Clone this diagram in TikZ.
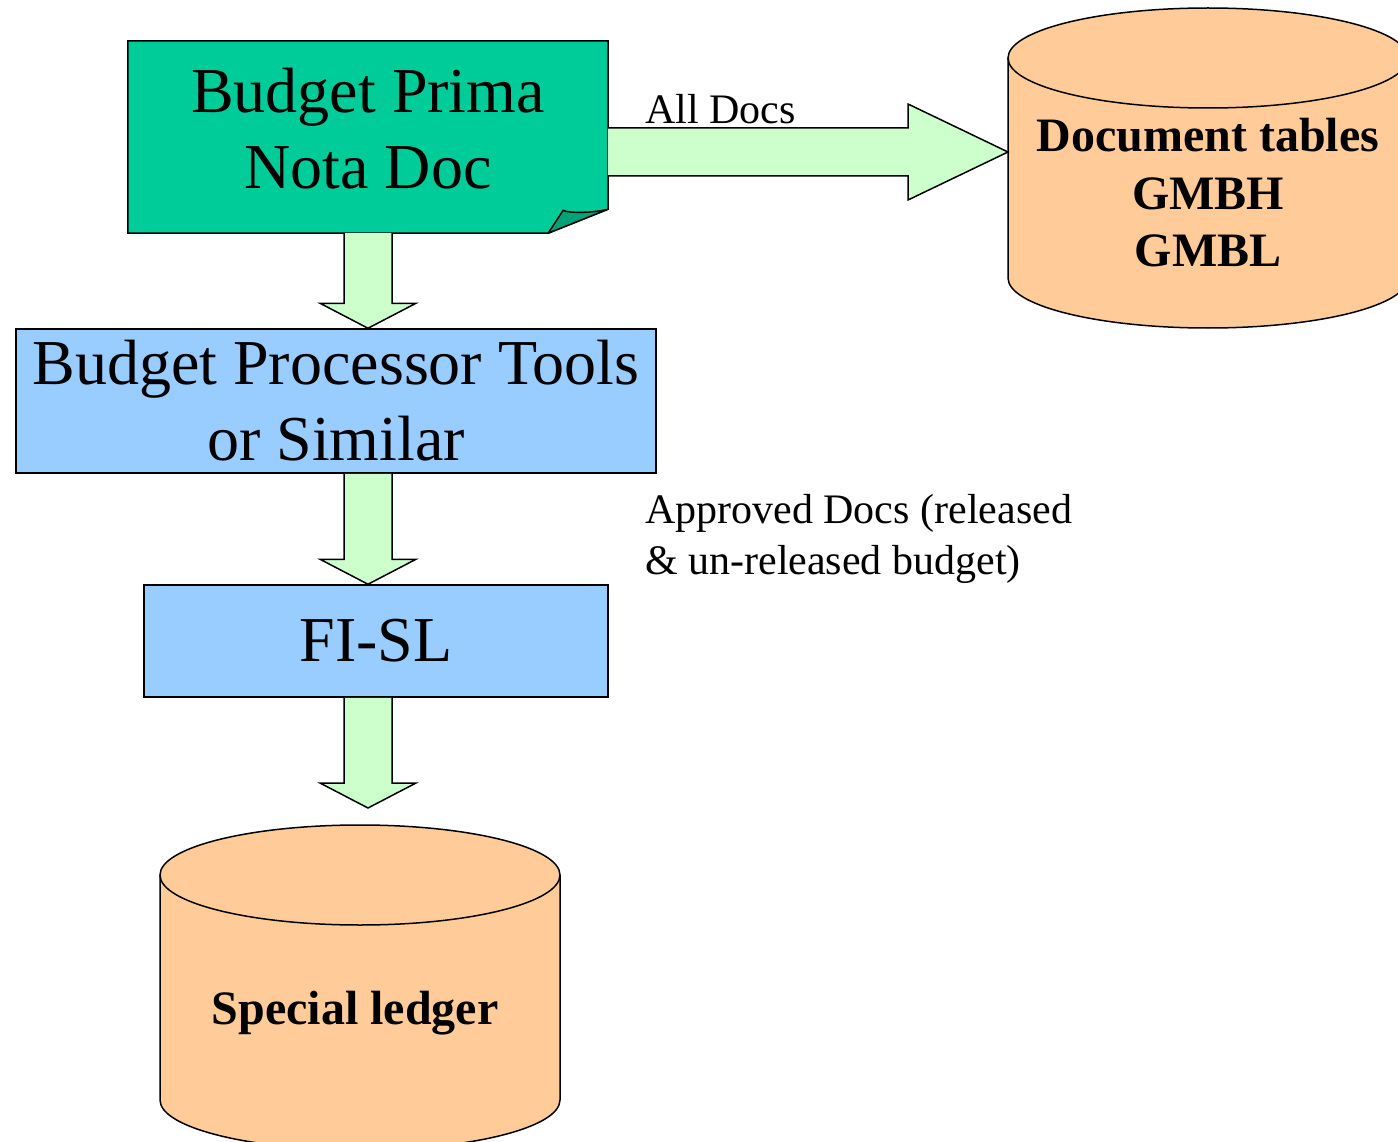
\documentclass[tikz,border=0pt]{standalone}
\usepackage{fontspec}
\setmainfont{Liberation Serif}
\usetikzlibrary{calc}
\usetikzlibrary{backgrounds}

\definecolor{docgreen}{RGB}{0,204,153}
\definecolor{flapgreen}{RGB}{0,163,122}
\definecolor{arrowgreen}{RGB}{204,255,204}
\definecolor{toolblue}{RGB}{153,204,255}
\definecolor{dbtan}{RGB}{255,204,153}

% fat block arrow pointing down, from #1 to the tip #2
\newcommand{\fatdown}[2]{%
  \draw[fatarrow] ($(#1)+(-24,0)$) -- ($(#2)+(-24,-25)$) -- ($(#2)+(-48,-25)$)
    -- (#2) -- ($(#2)+(48,-25)$) -- ($(#2)+(24,-25)$) -- ($(#1)+(24,0)$);}

\begin{document}
\begin{tikzpicture}[x=1pt,y=-1pt,
    box/.style={draw=black,line width=1.5pt,inner sep=0pt,align=center},
    bigtext/.style={font=\fontsize{64}{76}\selectfont},
    dbtext/.style={font=\bfseries\fontsize{48}{57.5}\selectfont,align=center,inner sep=0pt},
    lbl/.style={font=\fontsize{42}{51}\selectfont,align=left,inner sep=0pt},
    db/.style={draw=black,line width=1.5pt,fill=dbtan},
    fatarrow/.style={draw=black,line width=1.5pt,fill=arrowgreen,line join=miter}]
        \path[use as bounding box] (0,0) rectangle (1398,1142);
        \clip (0,0) rectangle (1398,1142);
        %
        \node[bigtext,align=center,inner sep=0pt,minimum width=480pt,minimum height=192pt,
              text depth=18pt] (prima) at (368,137) {Budget Prima\\Nota Doc};
        \begin{scope}[on background layer]
          \fill[white] (0,0) rectangle (1398,1142);
          \draw[box,fill=docgreen] (prima.north west) -- (prima.north east)
            -- ($(prima.south east)+(0,-24)$) -- ($(prima.south east)+(-60,0)$)
            -- (prima.south west) -- cycle;
        \end{scope}
        \draw[line width=1.5pt,fill=flapgreen,line join=round]
          ($(prima.south east)+(-60,0)$) -- ($(prima.south east)+(-45,-23)$)
          .. controls ($(prima.south east)+(-42,-20)$) and ($(prima.south east)+(-15,-20)$)
          .. ($(prima.south east)+(0,-24)$) -- cycle;
        %
        \node[box,fill=toolblue,bigtext,minimum width=640pt,minimum height=144pt]
          (proc) at (336,401) {Budget Processor Tools\\or Similar};
        \node[box,fill=toolblue,bigtext,minimum width=464pt,minimum height=112pt]
          (fisl) at (376,641) {FI-SL};
        %
        \draw[db] (1008,58) -- (1008,278)
          arc[start angle=180,end angle=0,x radius=200,y radius=50] -- (1408,58);
        \draw[db] (1208,58) ellipse [x radius=200,y radius=50];
        \node[dbtext] (tables) at (1208,193) {Document tables\\GMBH\\GMBL};
        \coordinate (tablesleft) at (1008,152);
        %
        \draw[db] (160,875) -- (160,1100)
          arc[start angle=180,end angle=0,x radius=200,y radius=50] -- (560,875);
        \draw[db] (360,875) ellipse [x radius=200,y radius=50];
        \node[dbtext] (ledger) at (355,1013) {Special ledger};
        \coordinate (ledgertop) at (360,825);
        %
        \coordinate (primaout) at (prima.south);
        \coordinate (procin) at (primaout |- proc.north);
        \coordinate (procout) at (primaout |- proc.south);
        \coordinate (fislin) at (primaout |- fisl.north);
        \coordinate (fislout) at (primaout |- fisl.south);
        \coordinate (ledgerin) at ($(primaout |- ledgertop)+(0,-17)$);
        \coordinate (primaeast) at (prima.east |- tablesleft);
        \fatdown{primaout}{procin}
        \fatdown{procout}{fislin}
        \fatdown{fislout}{ledgerin}
        \draw[fatarrow] ($(primaeast)+(0,-24)$) -- ($(tablesleft)+(-100,-24)$)
          -- ($(tablesleft)+(-100,-48)$) -- (tablesleft) -- ($(tablesleft)+(-100,48)$)
          -- ($(tablesleft)+(-100,24)$) -- ($(primaeast)+(0,24)$);
        %
        \node[lbl,anchor=base west] (alldocs) at (645,124) {All Docs};
        \node[lbl,anchor=north west] (approved) at (645,494)
          {Approved Docs (released\\\& un-released budget)};
      \end{tikzpicture}
\end{document}
